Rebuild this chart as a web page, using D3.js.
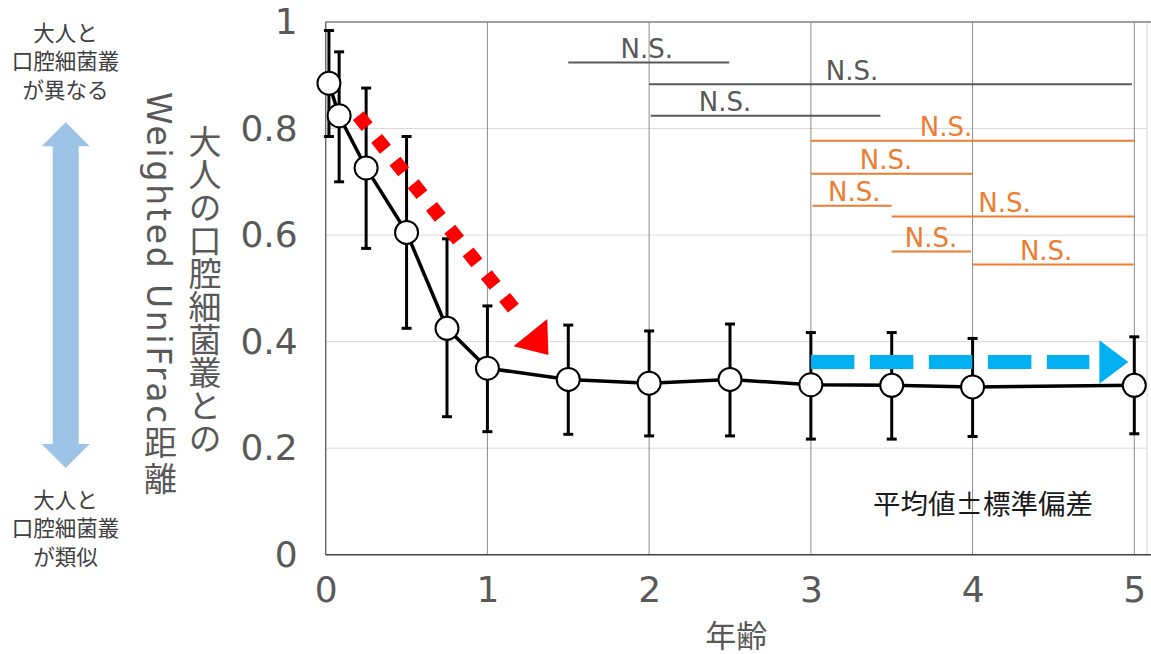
<!DOCTYPE html>
<html>
<head>
<meta charset="utf-8">
<script src="https://cdn.jsdelivr.net/npm/d3@7"></script>
<style>
  html, body { margin: 0; padding: 0; background: #fff; }
  svg { display: block; }
  text { font-family: "DejaVu Sans", "Noto Sans CJK JP", sans-serif; }
</style>
</head>
<body>
<svg id="chart" width="1151" height="654"></svg>
<script>
// ---- data ----
const ages  = [0.02, 0.083, 0.25, 0.5, 0.75, 1, 1.5, 2, 2.5, 3, 3.5, 4, 5];
const means = [0.885, 0.824, 0.726, 0.605, 0.425, 0.350, 0.329, 0.322, 0.329, 0.319, 0.318, 0.315, 0.318];
const upper = [0.984, 0.944, 0.876, 0.785, 0.593, 0.467, 0.431, 0.420, 0.433, 0.417, 0.417, 0.406, 0.409];
const lower = [0.785, 0.700, 0.575, 0.425, 0.259, 0.231, 0.226, 0.223, 0.223, 0.217, 0.217, 0.222, 0.227];

const xTicks = [0, 1, 2, 3, 4, 5];
const yTicks = [0, 0.2, 0.4, 0.6, 0.8, 1];

// N.S. comparison brackets
const nsFrom  = [1.5, 2.0, 2.01, 3.0, 3.0, 3.01, 3.5, 3.5, 4.0];
const nsTo    = [2.495, 4.985, 3.43, 5.0, 4.0, 3.5, 5.0, 3.99, 4.995];
const nsLevel = [0.924, 0.883, 0.824, 0.777, 0.715, 0.655, 0.635, 0.569, 0.545];
const nsLabelX = [1.985, 3.255, 2.469, 3.836, 3.465, 3.268, 4.198, 3.743, 4.455];
const nsGroup = ["gray", "gray", "gray", "orange", "orange", "orange", "orange", "orange", "orange"];

const xTitle = "年齢";
const yTitle1 = "大人の口腔細菌叢との";
const yTitle2 = "Weighted UniFrac距離";
const noteText = "平均値±標準偏差";
const topLabel = ["大人と", "口腔細菌叢", "が異なる"];
const bottomLabel = ["大人と", "口腔細菌叢", "が類似"];

// ---- layout ----
const svg = d3.select("#chart");
const x = d3.scaleLinear().domain([0, 5]).range([325.7, 1134.3]);
const y = d3.scaleLinear().domain([0, 1]).range([554.7, 22]);
const plotRight = 1147;
const gray = "#595959";
const orange = "#ED7D31";

// horizontal gridlines
svg.append("g").selectAll("line").data(yTicks.filter(v => v > 0 && v < 1)).join("line")
  .attr("x1", x(0)).attr("x2", plotRight)
  .attr("y1", d => y(d)).attr("y2", d => y(d))
  .attr("stroke", "#d9d9d9").attr("stroke-width", 1);

// right border (light)
svg.append("line").attr("x1", plotRight).attr("x2", plotRight)
  .attr("y1", y(1)).attr("y2", y(0)).attr("stroke", "#d9d9d9");

// vertical gridlines
svg.append("g").selectAll("line").data(xTicks.filter(v => v > 0)).join("line")
  .attr("x1", d => x(d)).attr("x2", d => x(d))
  .attr("y1", y(1)).attr("y2", y(0))
  .attr("stroke", "#8c8c8c").attr("stroke-width", 1);

// top border
svg.append("line").attr("x1", x(0)).attr("x2", 1151)
  .attr("y1", y(1)).attr("y2", y(1)).attr("stroke", "#808080").attr("stroke-width", 1.5);

// axes lines
svg.append("line").attr("x1", x(0)).attr("x2", x(0))
  .attr("y1", y(1)).attr("y2", y(0)).attr("stroke", "#6d6d6d").attr("stroke-width", 1.5);
svg.append("line").attr("x1", x(0)).attr("x2", 1151)
  .attr("y1", y(0)).attr("y2", y(0)).attr("stroke", "#404040").attr("stroke-width", 1.5);

// axes labels via d3 axes
const fmt = d => d === 0 ? "0" : (d === 1 ? "1" : d3.format(".1f")(d));
const gy = svg.append("g").attr("transform", `translate(${x(0)},0)`)
  .call(d3.axisLeft(y).tickValues(yTicks).tickSize(0).tickPadding(28).tickFormat(fmt));
gy.select(".domain").remove();
gy.selectAll("text").attr("font-size", 36).attr("fill", gray)
  .style("font-family", '"DejaVu Sans", sans-serif');

const gx = svg.append("g").attr("transform", `translate(0,${y(0)})`)
  .call(d3.axisBottom(x).tickValues(xTicks).tickSize(0).tickPadding(22).tickFormat(d3.format("d")));
gx.select(".domain").remove();
gx.selectAll("text").attr("font-size", 36).attr("fill", gray)
  .style("font-family", '"DejaVu Sans", sans-serif');

// axis titles
svg.append("text").attr("x", (x(0) + plotRight) / 2).attr("y", 633)
  .attr("text-anchor", "middle").attr("dominant-baseline", "central")
  .attr("font-size", 31).attr("fill", gray)
  .style("font-family", '"Noto Sans CJK JP", sans-serif').text(xTitle);

svg.append("text").attr("x", 205).attr("y", 125)
  .style("writing-mode", "vertical-rl")
  .attr("font-size", 33).attr("fill", gray)
  .style("font-family", '"Noto Sans CJK JP", sans-serif').text(yTitle1);
svg.append("text").attr("x", 158).attr("y", 92)
  .style("writing-mode", "vertical-rl")
  .style("letter-spacing", "2.8px")
  .attr("font-size", 33).attr("fill", gray)
  .style("font-family", '"DejaVu Sans", "Noto Sans CJK JP", sans-serif').text(yTitle2);

// N.S. brackets
const ns = svg.append("g");
nsFrom.forEach((f, i) => {
  const c = nsGroup[i] === "gray" ? gray : orange;
  ns.append("line").attr("x1", x(f)).attr("x2", x(nsTo[i]))
    .attr("y1", y(nsLevel[i])).attr("y2", y(nsLevel[i]))
    .attr("stroke", c).attr("stroke-width", 2);
  ns.append("text").attr("x", x(nsLabelX[i])).attr("y", y(nsLevel[i]) - 4.5)
    .attr("text-anchor", "middle").attr("font-size", 26).attr("fill", c)
    .text("N.S.");
});

// error bars
const eb = svg.append("g").attr("stroke", "#000").attr("stroke-width", 3);
ages.forEach((a, i) => {
  eb.append("line").attr("x1", x(a)).attr("x2", x(a)).attr("y1", y(upper[i])).attr("y2", y(lower[i]));
  eb.append("line").attr("x1", x(a) - 5).attr("x2", x(a) + 5).attr("y1", y(upper[i])).attr("y2", y(upper[i]));
  eb.append("line").attr("x1", x(a) - 5).attr("x2", x(a) + 5).attr("y1", y(lower[i])).attr("y2", y(lower[i]));
});

// mean line
const pts = ages.map((a, i) => [a, means[i]]);
svg.append("path").datum(pts)
  .attr("d", d3.line().x(d => x(d[0])).y(d => y(d[1])))
  .attr("fill", "none").attr("stroke", "#000").attr("stroke-width", 3.5);

// markers
svg.append("g").selectAll("circle").data(pts).join("circle")
  .attr("cx", d => x(d[0])).attr("cy", d => y(d[1])).attr("r", 11.5)
  .attr("fill", "#fff").attr("stroke", "#000").attr("stroke-width", 2);

// note
svg.append("text").attr("x", 873).attr("y", 502).attr("dominant-baseline", "central")
  .attr("font-size", 27.5).attr("fill", "#1a1a1a")
  .style("font-family", '"Noto Sans CJK JP", sans-serif').text(noteText);

// red dotted arrow (annotation, data coords)
(function () {
  const p0 = [x(0.229), y(0.814)], p1 = [x(1.1336), y(0.473)], tip = [x(1.377), y(0.375)];
  const dx = p1[0] - p0[0], dy = p1[1] - p0[1], L = Math.hypot(dx, dy);
  const u = [dx / L, dy / L], n = [u[1], -u[0]];
  const s = 14, pitch = L / 8;
  svg.append("line")
    .attr("x1", p0[0] - u[0] * s / 2).attr("y1", p0[1] - u[1] * s / 2)
    .attr("x2", p1[0] + u[0] * s / 2).attr("y2", p1[1] + u[1] * s / 2)
    .attr("stroke", "#ff0000").attr("stroke-width", s)
    .attr("stroke-dasharray", `${s} ${pitch - s}`);
  const bm = [tip[0] - u[0] * 28.7, tip[1] - u[1] * 28.7], hw = 21.7;
  svg.append("path")
    .attr("d", `M${tip[0]},${tip[1]}L${bm[0] + n[0] * hw},${bm[1] + n[1] * hw}L${bm[0] - n[0] * hw},${bm[1] - n[1] * hw}Z`)
    .attr("fill", "#ff0000");
})();

// blue dashed arrow
(function () {
  const yy = y(0.3617);
  svg.append("line").attr("x1", x(3)).attr("x2", x(4.722)).attr("y1", yy).attr("y2", yy)
    .attr("stroke", "#00b0f0").attr("stroke-width", 14)
    .attr("stroke-dasharray", "43.5 15.5");
  const bx = x(4.784), tx = x(4.963);
  svg.append("path").attr("d", `M${tx},${yy}L${bx},${yy - 21.7}L${bx},${yy + 21.7}Z`)
    .attr("fill", "#00b0f0");
})();

// left double arrow
(function () {
  const cx = 65.7, top = 122.3, bot = 468, hh = 24, hw = 24, sw = 13;
  svg.append("path")
    .attr("d", `M${cx},${top}L${cx + hw},${top + hh}L${cx + sw},${top + hh}L${cx + sw},${bot - hh}L${cx + hw},${bot - hh}L${cx},${bot}L${cx - hw},${bot - hh}L${cx - sw},${bot - hh}L${cx - sw},${top + hh}L${cx - hw},${top + hh}Z`)
    .attr("fill", "#9dc3e6");
})();

// left labels
const lab = (lines, y0) => {
  svg.append("g").selectAll("text").data(lines).join("text")
    .attr("x", 65.5).attr("y", (d, i) => y0 + i * 28.5)
    .attr("text-anchor", "middle").attr("dominant-baseline", "central")
    .attr("font-size", 21.5).attr("fill", "#404040")
    .style("font-family", '"Noto Sans CJK JP", sans-serif').text(d => d);
};
lab(topLabel, 31);
lab(bottomLabel, 498);
</script>
</body>
</html>
